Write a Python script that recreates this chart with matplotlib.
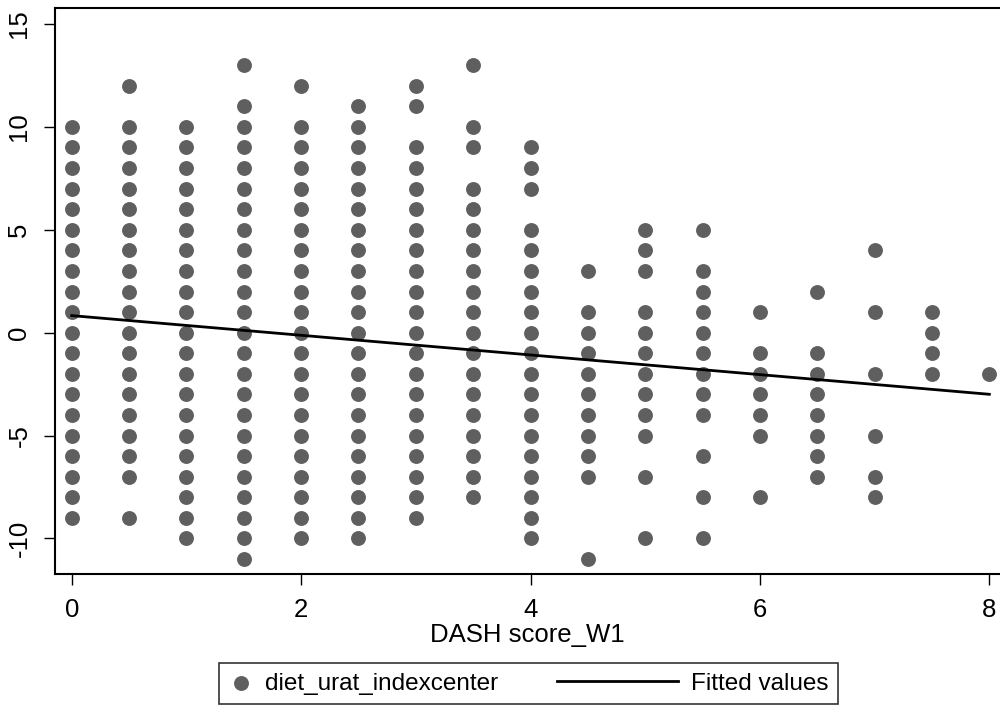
import numpy as np
import matplotlib
matplotlib.use("Agg")
import matplotlib.pyplot as plt
from matplotlib.legend_handler import HandlerLine2D

plt.rcParams["font.family"] = ["Liberation Sans", "DejaVu Sans"]
plt.rcParams["axes.unicode_minus"] = False

# DASH score levels on the x axis
scores = [0, 0.5, 1, 1.5, 2, 2.5, 3, 3.5, 4, 4.5, 5, 5.5, 6, 6.5, 7, 7.5, 8]

# diet_urat_indexcenter values seen at each score
y_0_0 = list(range(10, -10, -1))
y_0_5 = [12] + list(range(10, -8, -1)) + [-9]
y_1_0 = list(range(10, -11, -1))
y_1_5 = [13, 11] + list(range(10, -12, -1))
y_2_0 = [12] + list(range(10, -11, -1))
y_2_5 = list(range(11, -11, -1))
y_3_0 = [12, 11] + list(range(9, -10, -1))
y_3_5 = [13, 10, 9] + list(range(7, -9, -1))
y_4_0 = [9, 8, 7] + list(range(5, -11, -1))
y_4_5 = [3, 1, 0, -1, -2, -3, -4, -5, -6, -7, -11]
y_5_0 = [5, 4, 3, 1, 0, -1, -2, -3, -4, -5, -7, -10]
y_5_5 = [5, 3, 2, 1, 0, -1, -2, -3, -4, -6, -8, -10]
y_6_0 = [1, -1, -2, -3, -4, -5, -8]
y_6_5 = [2, -1, -2, -3, -4, -5, -6, -7]
y_7_0 = [4, 1, -2, -5, -7, -8]
y_7_5 = [1, 0, -1, -2]
y_8_0 = [-2]

columns = [y_0_0, y_0_5, y_1_0, y_1_5, y_2_0, y_2_5, y_3_0, y_3_5, y_4_0,
           y_4_5, y_5_0, y_5_5, y_6_0, y_6_5, y_7_0, y_7_5, y_8_0]

# fitted regression line
fit_intercept = 0.83
fit_slope = -0.478

x = np.concatenate([[s] * len(c) for s, c in zip(scores, columns)])
y = np.concatenate(columns)

fit_x = np.array([min(scores), max(scores)])
fit_y = fit_intercept + fit_slope * fit_x

fig = plt.figure(figsize=(10, 7.08), dpi=100)
ax = fig.add_axes([0.055, 0.1893, 0.945, 0.7994])

ax.scatter(x, y, s=115, color="#5f5f5f", linewidths=0, zorder=2,
           label="diet_urat_indexcenter")
ax.plot(fit_x, fit_y, color="black", lw=2.0, zorder=3, label="Fitted values")

ax.set_xlim(-0.1456, 8.093)
ax.set_ylim(-11.725, 15.777)
ax.set_xticks([0, 2, 4, 6, 8])
ax.set_yticks([-10, -5, 0, 5, 10, 15])
ax.tick_params(axis="both", direction="out", length=8, width=1.0,
               labelsize=18.5, pad=9)
for lab in ax.get_yticklabels():
    lab.set_rotation(90)
    lab.set_va("center")
ax.spines["right"].set_visible(False)
for side in ["left", "bottom", "top"]:
    ax.spines[side].set_linewidth(1.5)

ax.set_xlabel("DASH score_W1", fontsize=18.5, labelpad=1)


class LongLine(HandlerLine2D):
    # stretch the line key to the left, like the Stata legend
    def get_xdata(self, legend, xdescent, ydescent, width, height, fontsize):
        x1 = -xdescent + width
        return [x1 - 5.0 * fontsize, x1], [x1]


handles, labels = ax.get_legend_handles_labels()
leg = fig.legend(handles, labels, loc="upper center", ncol=2,
                 bbox_to_anchor=(0.5285, 1 - 663 / 708), fontsize=17.5,
                 frameon=True, fancybox=False, edgecolor="black",
                 handlelength=1.0, handletextpad=0.5, columnspacing=6.4,
                 borderpad=0.4, borderaxespad=0,
                 handler_map={handles[1]: LongLine()})
leg.get_frame().set_linewidth(1.2)

fig.savefig("out.png", dpi=100)
